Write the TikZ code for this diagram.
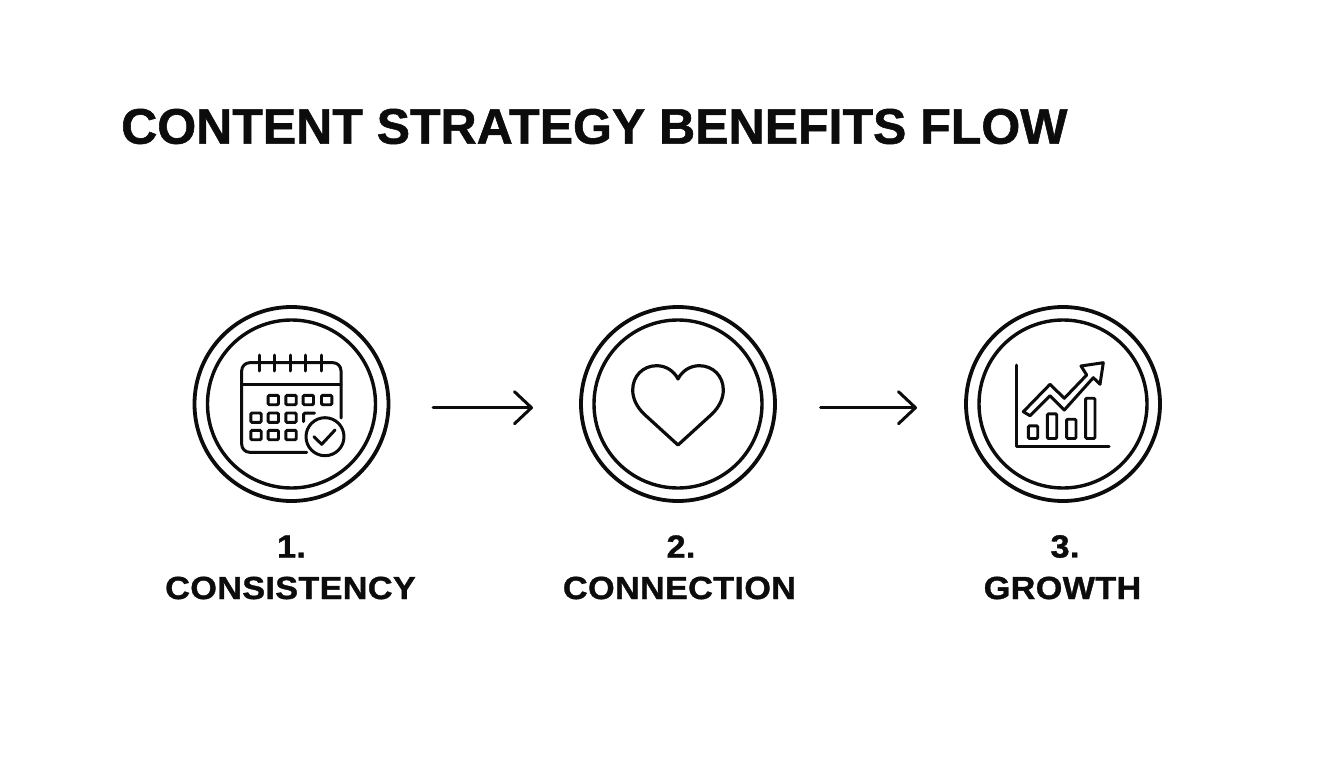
\documentclass[tikz,border=0pt]{standalone}
\usepackage{fontspec}
\setmainfont{Liberation Sans}
\newfontfamily\titlef{Liberation Sans}[UprightFont=* Bold,FakeBold=1.1]
\newfontfamily\labelf{Liberation Sans}[UprightFont=* Bold,FakeBold=1.1,FakeStretch=1.07,LetterSpace=1]
\usetikzlibrary{arrows.meta}
\definecolor{ink}{HTML}{0C0C0C}
\tikzset{
  ring/.style={circle,draw=ink,line width=3.8pt,minimum size=194pt,inner sep=0pt,outer sep=0pt},
  innerring/.style={circle,draw=ink,line width=3.4pt,minimum size=168pt,inner sep=0pt,outer sep=0pt},
  title/.style={font=\fontsize{50}{50}\titlef,text=ink,anchor=west,inner sep=0pt},
  lab/.style={font=\fontsize{32}{32}\labelf,text=ink,inner sep=0pt},
  icon/.style={draw=ink,line width=3pt,line cap=round,line join=round},
  cell/.style={draw=ink,line width=2.9pt,rounded corners=1.2pt},
  flow/.style={draw=ink,line width=3pt,line cap=round,-{Straight Barb[length=17pt,width=32pt,line width=3pt,round]}}
}
\begin{document}
\begin{tikzpicture}[x=1pt,y=-1pt]
\useasboundingbox (0,0) rectangle (1344,768);
\fill[white] (0,0) rectangle (1344,768);
\node[title] (t) at (121,126.5) {CONTENT STRATEGY BENEFITS FLOW};
\node[ring] (c1) at (291.5,404) {};
\node[innerring] (i1) at (291.5,404) {};
\node[ring] (c2) at (678,404) {};
\node[innerring] (i2) at (678,404) {};
\node[ring] (c3) at (1063,404) {};
\node[innerring] (i3) at (1063,404) {};
\draw[flow,shorten <=44.5pt,shorten >=48pt] ([yshift=-3.7pt]c1.east) -- ([yshift=-3.7pt]c2.west);
\draw[flow,shorten <=45.5pt,shorten >=49pt] ([yshift=-3.7pt]c2.east) -- ([yshift=-3.7pt]c3.west);
\node[lab] (n1) at (291.5,546.5) {1.};
\node[lab] (l1) at (290.5,588) {CONSISTENCY};
\node[lab] (n2) at (681,546.5) {2.};
\node[lab] (l2) at (679.5,588) {CONNECTION};
\node[lab] (n3) at (1065,546.5) {3.};
\node[lab] (l3) at (1062.5,588) {GROWTH};
% calendar
\draw[icon] (306.7,452.3) -- (249.7,452.3) arc[start angle=90,end angle=180,radius=8] -- (241.7,370.7) arc[start angle=180,end angle=270,radius=8] -- (333,362.7) arc[start angle=270,end angle=360,radius=8] -- (341,418);
\draw[icon] (241.7,384.3) -- (341,384.3);
\foreach \x in {259,274.3,290,305.7,321.7} \draw[icon] (\x,355) -- (\x,371);
\foreach \x in {273.3,291,308.3,326.7} \draw[cell] (\x-5.2,395.3) rectangle (\x+5.2,404.7);
\foreach \x in {256,273.3,291} {
  \draw[cell] (\x-5.2,413) rectangle (\x+5.2,422.4);
  \draw[cell] (\x-5.2,430.3) rectangle (\x+5.2,439.7);
}
\draw[icon] (303.5,421.5) -- (303.5,414.5) -- ++(1.5,-1.5) -- (314.5,413);
\draw[icon] (325,436.7) circle[radius=19];
\draw[icon] (314,436.7) -- (321.7,444.3) -- (335,430);
% heart
\draw[icon,line width=3.2pt] (678,445) -- (644,414) .. controls (637,407) and (632.7,399) .. (632.7,390)
 .. controls (632.7,376) and (643,365.7) .. (656.7,365.7) .. controls (666,365.7) and (674,371) .. (678,379)
 .. controls (682,371) and (690,365.7) .. (699.3,365.7) .. controls (713,365.7) and (723.3,376) .. (723.3,390)
 .. controls (723.3,399) and (719,407) .. (712,414) -- cycle;
% chart
\draw[icon] (1016.7,365) -- (1016.7,446.7) -- (1109,446.7);
\draw[cell] (1028.3,425.8) rectangle (1037.7,438.5);
\draw[cell] (1047.3,413.8) rectangle (1056.7,438.5);
\draw[cell] (1066.6,419.2) rectangle (1076,438.5);
\draw[cell] (1085.6,398.2) rectangle (1095,438.5);
\draw[icon] (1023.3,411.7) -- (1050,384.3) -- (1064.3,398.3) -- (1086.7,375) -- (1081,366) -- (1103.3,362.7) -- (1100,384.3) -- (1093.3,377.7) -- (1064.3,410) -- (1050,395.7) -- (1030,415.7) -- cycle;
\end{tikzpicture}
\end{document}
